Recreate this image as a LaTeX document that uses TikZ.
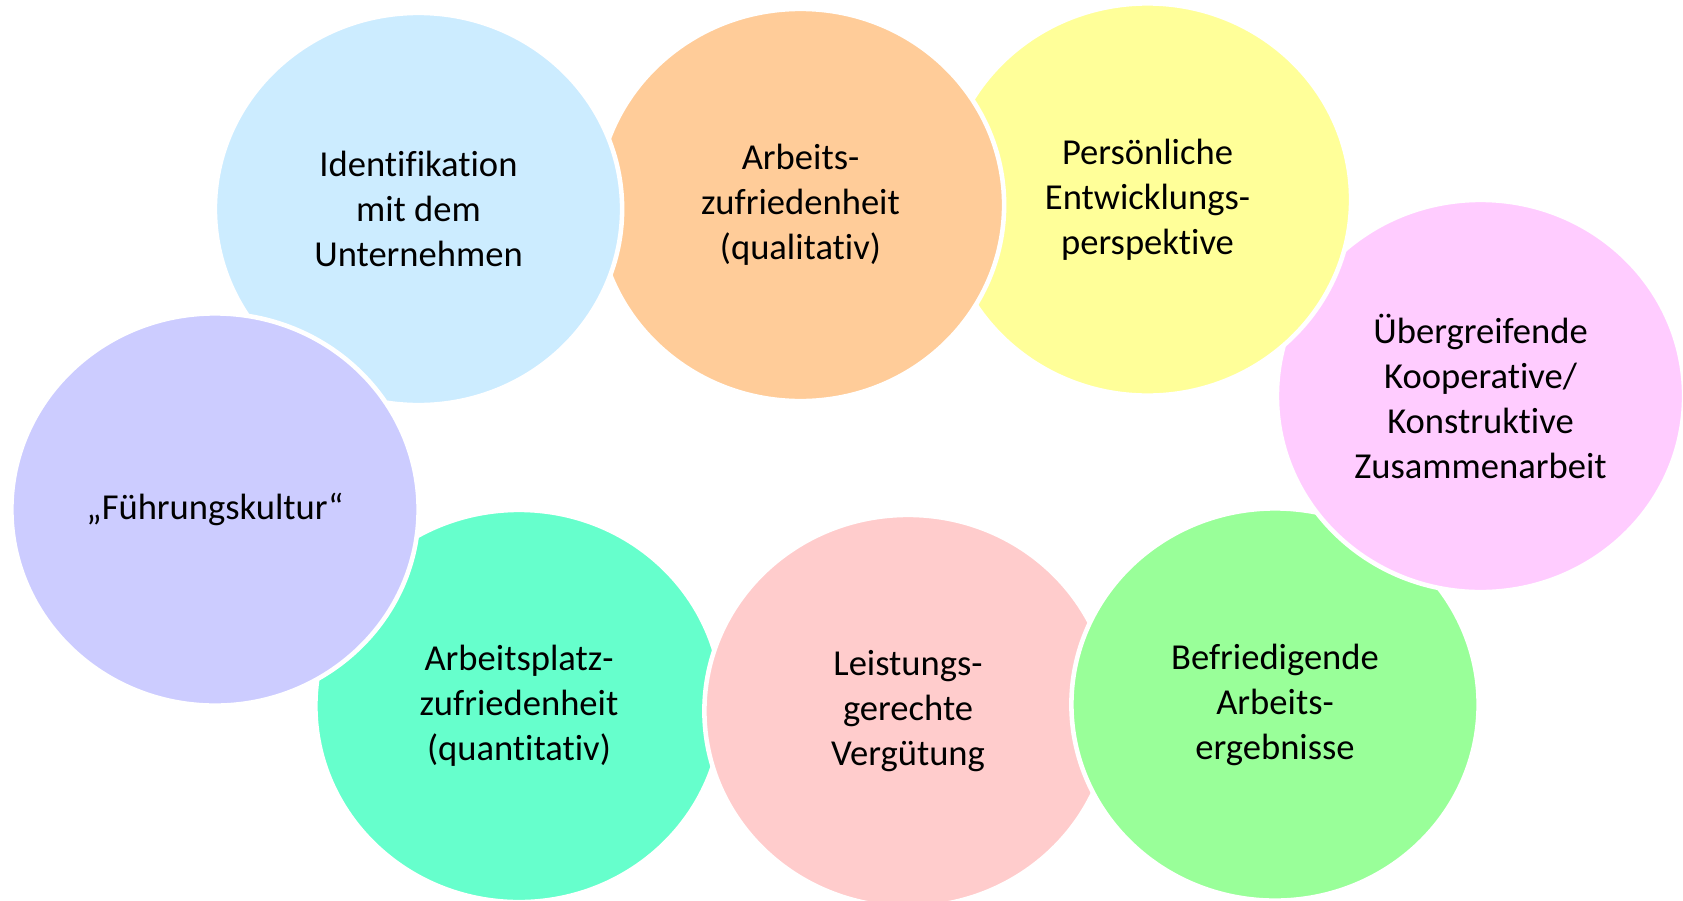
\documentclass[tikz,border=0pt]{standalone}
\usepackage{fontspec}
\setmainfont{Carlito}[RawFeature={-liga;-clig;-calt;-dlig}]
\usepackage{xcolor}
\definecolor{bubBlue}{HTML}{CCECFF}
\definecolor{bubOrange}{HTML}{FFCC99}
\definecolor{bubYellow}{HTML}{FFFF99}
\definecolor{bubPink}{HTML}{FFCCFF}
\definecolor{bubGreen}{HTML}{99FF99}
\definecolor{bubRose}{HTML}{FFCCCC}
\definecolor{bubTeal}{HTML}{66FFCC}
\definecolor{bubLilac}{HTML}{CCCCFF}
\usepackage{tikz}
\usetikzlibrary{shapes}
\tikzset{
    bubble/.style={
        ellipse,
        draw=white,
        line width=1.3pt,
        minimum width=4.07cm,
        minimum height=3.92cm,
        inner sep=0pt,
        align=center,
        font=\fontsize{10.4}{12.8}\selectfont
    }
}

\begin{document}
\begin{tikzpicture}[x=0.01cm, y=-0.01cm]
    \useasboundingbox (0,0) rectangle (1683,900);

    % Lower row first, the upper bubbles overlap them
    \node[bubble, fill=bubTeal] (platz) at (519,706) {Arbeitsplatz-\\zufriedenheit\\(quantitativ)};
    \node[bubble, fill=bubRose] (lohn) at (908,711) {Leistungs-\\gerechte\\Vergütung};
    \node[bubble, fill=bubGreen] (ergebnis) at (1275,704.5) {Befriedigende\\Arbeits-\\ergebnisse};
    \node[bubble, fill=bubPink] (koop) at (1480.5,396) {Übergreifende\\Kooperative/\\Konstruktive\\Zusammenarbeit};

    % Upper row
    \node[bubble, fill=bubYellow] (entw) at (1147.5,199.5) {Persönliche\\Entwicklungs-\\perspektive};
    \node[bubble, fill=bubOrange] (zufr) at (800.5,205) {Arbeits-\\zufriedenheit\\(qualitativ)};
    \node[bubble, fill=bubBlue] (ident) at (418.5,209) {Identifikation\\mit dem\\Unternehmen};

    % Left bubble on top of both rows
    \node[bubble, fill=bubLilac] (fuehr) at (215,509.5) {„Führungskultur“};
\end{tikzpicture}
\end{document}
